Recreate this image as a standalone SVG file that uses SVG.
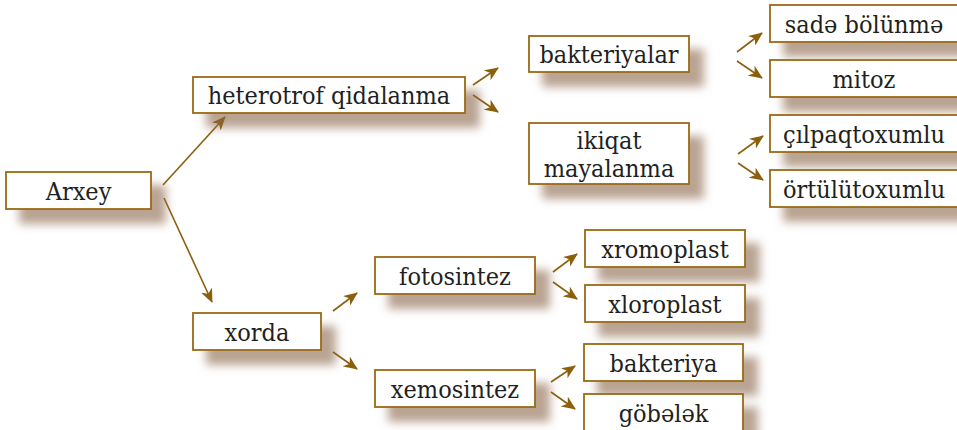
<svg xmlns="http://www.w3.org/2000/svg" width="957" height="430" viewBox="0 0 957 430">
<defs>
<filter id="sh" x="-20%" y="-40%" width="150%" height="220%">
<feDropShadow dx="14" dy="14" stdDeviation="5" flood-color="#8a6548" flood-opacity="0.6"/>
</filter>
<marker id="ah" viewBox="0 0 14 12" refX="13" refY="6" markerWidth="14" markerHeight="12" markerUnits="userSpaceOnUse" orient="auto">
<path d="M0,0 L14,6 L0,12 L4,6 Z" fill="#8c5f0c"/>
</marker>
<style>
.box{fill:#ffffff;stroke:#9a6a14;stroke-width:1.8;filter:url(#sh)}
.t{font-family:"DejaVu Serif Condensed","DejaVu Serif",serif;font-stretch:condensed;font-size:25px;fill:#231f20;text-anchor:middle}
.c line{stroke:#8c5f0c;stroke-width:1.6;marker-end:url(#ah)}
</style>
</defs>
<rect width="957" height="430" fill="#ffffff"/>
<g class="c" id="connectors">
<line x1="163" y1="185" x2="225" y2="117"/>
<line x1="164" y1="198" x2="212" y2="302"/>
<line x1="473" y1="85" x2="498" y2="68"/>
<line x1="473" y1="95" x2="498" y2="112"/>
<line x1="737" y1="52" x2="762" y2="33"/>
<line x1="737" y1="61" x2="762" y2="78"/>
<line x1="738" y1="154" x2="763" y2="136"/>
<line x1="738" y1="163" x2="763" y2="180"/>
<line x1="333" y1="311" x2="357" y2="293"/>
<line x1="333" y1="352" x2="357" y2="369"/>
<line x1="553" y1="272" x2="577" y2="254"/>
<line x1="553" y1="282" x2="577" y2="299"/>
<line x1="551" y1="382" x2="575" y2="366"/>
<line x1="551" y1="392" x2="575" y2="409"/>
</g>
<g id="n-arxey"><rect class="box" x="6" y="172" width="145" height="37"/><text class="t" x="78.5" y="200">Arxey</text></g>
<g id="n-heterotrof"><rect class="box" x="193" y="77" width="272" height="36"/><text class="t" x="329" y="104">heterotrof qidalanma</text></g>
<g id="n-bakteriyalar"><rect class="box" x="529" y="36" width="160" height="36"/><text class="t" x="609" y="63">bakteriyalar</text></g>
<g id="n-ikiqat"><rect class="box" x="529" y="123" width="160" height="61"/><text class="t" x="609" y="149">ikiqat</text><text class="t" x="609" y="177">mayalanma</text></g>
<g id="n-sade"><rect class="box" x="770" y="5" width="189" height="37"/><text class="t" x="864" y="33">sadə bölünmə</text></g>
<g id="n-mitoz"><rect class="box" x="770" y="60" width="189" height="37"/><text class="t" x="864" y="88">mitoz</text></g>
<g id="n-cilpaq"><rect class="box" x="770" y="115" width="189" height="37"/><text class="t" x="864" y="143">çılpaqtoxumlu</text></g>
<g id="n-ortulu"><rect class="box" x="770" y="170" width="189" height="37"/><text class="t" x="864" y="198">örtülütoxumlu</text></g>
<g id="n-xorda"><rect class="box" x="193" y="313" width="128" height="37"/><text class="t" x="257" y="341">xorda</text></g>
<g id="n-fotosintez"><rect class="box" x="375" y="257" width="160" height="37"/><text class="t" x="455" y="285">fotosintez</text></g>
<g id="n-xemosintez"><rect class="box" x="375" y="370" width="160" height="37"/><text class="t" x="455" y="398">xemosintez</text></g>
<g id="n-xromoplast"><rect class="box" x="585" y="230" width="160" height="37"/><text class="t" x="665" y="258">xromoplast</text></g>
<g id="n-xloroplast"><rect class="box" x="585" y="285" width="160" height="37"/><text class="t" x="665" y="313">xloroplast</text></g>
<g id="n-bakteriya"><rect class="box" x="584" y="344" width="159" height="37"/><text class="t" x="663.5" y="372">bakteriya</text></g>
<g id="n-gobelek"><rect class="box" x="584" y="394" width="159" height="40"/><text class="t" x="663.5" y="422">göbələk</text></g>
</svg>
